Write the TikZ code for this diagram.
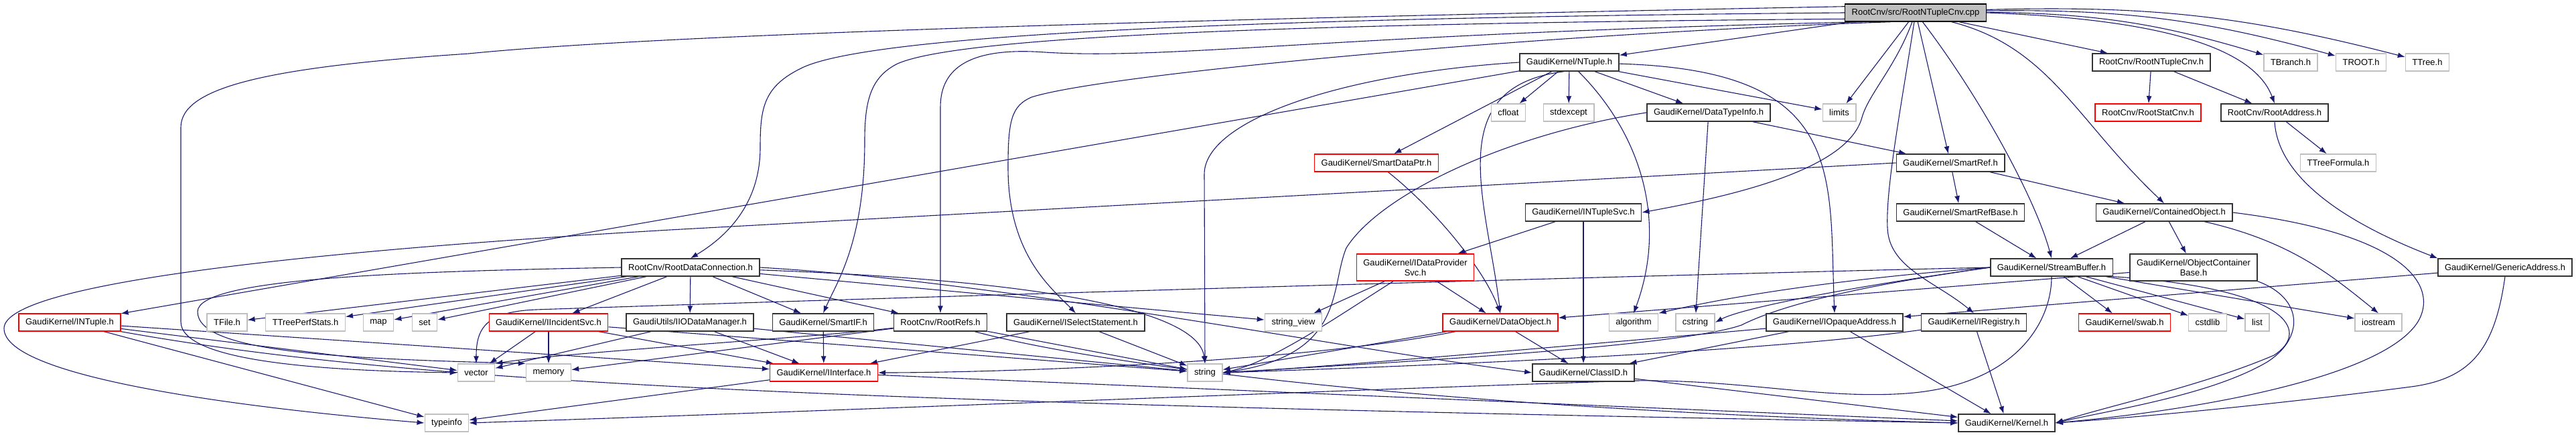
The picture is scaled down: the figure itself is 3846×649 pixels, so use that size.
\documentclass[tikz,border=0pt]{standalone}
\usepackage{fontspec}
\setmainfont{Liberation Sans}
\usetikzlibrary{arrows.meta,backgrounds}
\definecolor{DoxEdge}{RGB}{25,25,112}
\definecolor{DoxGray}{RGB}{191,191,191}
\definecolor{DoxRed}{RGB}{255,0,0}
\definecolor{DoxDark}{RGB}{51,51,51}

\begin{document}
\begin{tikzpicture}[x=1bp,y=-1bp,
  hdr/.style={draw=DoxDark,line width=1.4bp,fill=white,minimum height=26bp,
              inner xsep=10bp,inner ysep=2bp,align=center,
              font=\fontsize{13bp}{15bp}\selectfont},
  syshdr/.style={hdr,draw=DoxGray},
  cuthdr/.style={hdr,draw=DoxRed},
  srchdr/.style={hdr,draw=black,fill=DoxGray},
  dep/.style={-{Latex[length=11bp,width=8bp]},draw=DoxEdge,line width=1.1bp}]
  \useasboundingbox (0,0) rectangle (3846,649);
  % rows from top to bottom
  \node[srchdr](cnv) at (2860,19){RootCnv/src/RootNTupleCnv.cpp};
  \node[hdr](ntuple) at (2343,93){GaudiKernel/NTuple.h};
  \node[hdr](cnvh) at (3212,93){RootCnv/RootNTupleCnv.h};
  \node[syshdr](tbranch) at (3420,93){TBranch.h};
  \node[syshdr](troot) at (3525,93){TROOT.h};
  \node[syshdr](ttree) at (3624,93){TTree.h};
  \node[syshdr](cfloat) at (2252,168){cfloat};
  \node[syshdr](stdexc) at (2342,168){stdexcept};
  \node[hdr](dtinfo) at (2551,168){GaudiKernel/DataTypeInfo.h};
  \node[syshdr](limits) at (2746,168){limits};
  \node[cuthdr](statcnv) at (3207,168){RootCnv/RootStatCnv.h};
  \node[hdr](raddr) at (3396,168){RootCnv/RootAddress.h};
  \node[cuthdr](sdptr) at (2055,243){GaudiKernel/SmartDataPtr.h};
  \node[hdr](sref) at (2912,243){GaudiKernel/SmartRef.h};
  \node[syshdr](tformula) at (3491,243){TTreeFormula.h};
  \node[hdr](ntsvc) at (2364,317){GaudiKernel/INTupleSvc.h};
  \node[hdr](srefbase) at (2927,317){GaudiKernel/SmartRefBase.h};
  \node[hdr](cobj) at (3231,317){GaudiKernel/ContainedObject.h};
  \node[hdr](rdc) at (1031,399){RootCnv/RootDataConnection.h};
  \node[cuthdr,minimum height=40bp](idps) at (2113,399){GaudiKernel/IDataProvider\\Svc.h};
  \node[hdr](sbuf) at (3063,399){GaudiKernel/StreamBuffer.h};
  \node[hdr,minimum height=40bp](ocbase) at (3275,399){GaudiKernel/ObjectContainer\\Base.h};
  \node[hdr](gaddr) at (3740,399){GaudiKernel/GenericAddress.h};
  \node[cuthdr](intuple) at (104,481){GaudiKernel/INTuple.h};
  \node[syshdr](tfile) at (339,481){TFile.h};
  \node[syshdr](tperf) at (456,481){TTreePerfStats.h};
  \node[syshdr](map) at (565,481){map};
  \node[syshdr](set) at (634,481){set};
  \node[cuthdr](incsvc) at (819,481){GaudiKernel/IIncidentSvc.h};
  \node[hdr](iodm) at (1030,481){GaudiUtils/IIODataManager.h};
  \node[hdr](smartif) at (1229,481){GaudiKernel/SmartIF.h};
  \node[hdr](rrefs) at (1404,481){RootCnv/RootRefs.h};
  \node[hdr](isel) at (1606,481){GaudiKernel/ISelectStatement.h};
  \node[syshdr](strview) at (1931,481){string\_view};
  \node[cuthdr](dobj) at (2240,481){GaudiKernel/DataObject.h};
  \node[syshdr](algo) at (2439,481){algorithm};
  \node[syshdr](cstring) at (2531,481){cstring};
  \node[hdr](iopaque) at (2739,481){GaudiKernel/IOpaqueAddress.h};
  \node[hdr](ireg) at (2947,481){GaudiKernel/IRegistry.h};
  \node[cuthdr](swab) at (3172,481){GaudiKernel/swab.h};
  \node[syshdr](cstdlib) at (3296,481){cstdlib};
  \node[syshdr](list) at (3370,481){list};
  \node[syshdr](iostream) at (3551,481){iostream};
  \node[syshdr](vector) at (711,556){vector};
  \node[syshdr](memory) at (819,556){memory};
  \node[cuthdr](iface) at (1230,556){GaudiKernel/IInterface.h};
  \node[syshdr](string) at (1799,556){string};
  \node[hdr](classid) at (2364,556){GaudiKernel/ClassID.h};
  \node[syshdr](typeinfo) at (667,631){typeinfo};
  \node[hdr](kernel) at (2996,631){GaudiKernel/Kernel.h};

  \begin{scope}[on background layer]
  \foreach \a/\b in {cnv/ntuple,cnv/limits,cnv/sref,cnv/cnvh,
      ntuple/intuple,ntuple/cfloat,ntuple/stdexc,ntuple/dtinfo,ntuple/limits,ntuple/sdptr,
      dtinfo/cstring,dtinfo/sref,sref/srefbase,sref/cobj,ntsvc/idps,ntsvc/classid,
      srefbase/sbuf,cobj/sbuf,cobj/ocbase,cnvh/statcnv,cnvh/raddr,raddr/tformula,
      gaddr/iopaque,sbuf/swab,sbuf/cstdlib,sbuf/list,sbuf/iostream,ocbase/dobj,
      idps/strview,idps/dobj,dobj/classid,dobj/string,iopaque/classid,iopaque/kernel,
      ireg/kernel,classid/kernel,iface/typeinfo,iface/kernel,
      intuple/vector,intuple/iface,rdc/tfile,rdc/tperf,rdc/map,rdc/set,rdc/incsvc,
      rdc/iodm,rdc/smartif,rdc/rrefs,rdc/strview,incsvc/vector,incsvc/memory,
      incsvc/iface,incsvc/string,iodm/vector,iodm/iface,iodm/string,smartif/iface,
      rrefs/string,rrefs/memory,isel/iface,isel/string}
    \draw[dep](\a)--(\b);
  \draw[dep](cnv) to[bend left=8] (tbranch);
  \draw[dep](cnv) to[bend left=8] (troot);
  \draw[dep](cnv) to[bend left=8] (ttree);
  \draw[dep](cnv.east) .. controls (3270,30) and (3370,85) .. (raddr.north);
  \draw[dep](cnv) .. controls (3060,70) and (3100,180) .. (cobj.north);
  \draw[dep](cnv) .. controls (2960,150) and (3040,300) .. (sbuf.north);
  \draw[dep](cnv) .. controls (2840,150) and (2815,280) .. (2818,340)
                  .. controls (2820,400) and (2890,420) .. (ireg.north);
  \draw[dep](cnv) .. controls (2830,100) and (2790,140) .. (2780,175)
                  .. controls (2760,250) and (2600,290) .. (ntsvc.east);
  \draw[dep](cnv.175) .. controls (1800,28) and (1000,50) .. (700,80)
                  .. controls (400,100) and (270,130) .. (270,190) -- (270,480)
                  .. controls (270,535) and (450,553) .. (vector.west);
  \draw[dep](cnv.west) .. controls (1700,28) and (1290,60) .. (1200,100)
                  .. controls (1140,128) and (1135,160) .. (1135,220)
                  .. controls (1135,300) and (1090,350) .. (rdc.north);
  \draw[dep](cnv.185) .. controls (1800,36) and (1420,60) .. (1340,95)
                  .. controls (1300,115) and (1291,150) .. (1291,210)
                  .. controls (1291,360) and (1250,420) .. (smartif.north);
  \draw[dep](cnv.190) .. controls (2000,50) and (1750,90) .. (1560,78)
                  .. controls (1450,70) and (1404,100) .. (1404,160) -- (rrefs.north);
  \draw[dep](cnv.200) .. controls (2300,50) and (1650,110) .. (1540,145)
                  .. controls (1510,158) and (1505,180) .. (1505,250)
                  .. controls (1505,380) and (1570,430) .. (isel.north);
  \draw[dep](ntuple.west) .. controls (2000,110) and (1798,180) .. (1798,260) -- (string.north);
  \draw[dep](ntuple.-120) .. controls (2150,130) and (2220,300) .. (dobj.north);
  \draw[dep](ntuple) .. controls (2450,200) and (2490,330) .. (algo.north);
  \draw[dep](ntuple) .. controls (2760,105) and (2730,260) .. (iopaque.north);
  \draw[dep](dtinfo.west) .. controls (2250,200) and (2060,290) .. (2010,370)
                  .. controls (1985,430) and (2010,530) .. (string.east);
  \draw[dep](sdptr) .. controls (2140,310) and (2215,400) .. (dobj.north);
  \draw[dep](sref.west) -- (1000,343) .. controls (500,372) and (6,420) .. (6,490)
                  .. controls (6,565) and (380,610) .. (typeinfo.west);
  \draw[dep](sbuf.south) .. controls (3063,480) and (3010,575) .. (2846,587)
                  .. controls (2720,596) and (2600,566) .. (2442,568)
                  .. controls (2100,578) and (1200,615) .. (typeinfo.east);
  \draw[dep](sbuf.west) .. controls (2400,412) and (1300,445) .. (800,462)
                  .. controls (725,465) and (711,490) .. (vector.north);
  \draw[dep](sbuf.west) .. controls (2700,420) and (2550,450) .. (algo.north east);
  \draw[dep](sbuf.west) .. controls (2750,430) and (2600,460) .. (cstring.east);
  \draw[dep](sbuf.west) .. controls (2750,430) and (2650,460) .. (2600,485)
                  .. controls (2500,520) and (2000,545) .. (string.east);
  \draw[dep](sbuf.south east) .. controls (3420,430) and (3450,495) .. (3395,530)
                  .. controls (3290,575) and (3150,605) .. (kernel.east);
  \draw[dep](cobj) .. controls (3420,360) and (3480,410) .. (iostream.north);
  \draw[dep](cobj.east) .. controls (3600,350) and (3640,430) .. (3610,480)
                  .. controls (3560,560) and (3300,610) .. (kernel.east);
  \draw[dep](ocbase.south east) .. controls (3440,445) and (3440,505) .. (3385,540)
                  .. controls (3300,590) and (3150,612) .. (kernel.east);
  \draw[dep](gaddr.south) .. controls (3725,520) and (3690,565) .. (3600,577)
                  .. controls (3400,603) and (3200,622) .. (kernel.east);
  \draw[dep](raddr.south) .. controls (3400,250) and (3470,320) .. (gaddr.north west);
  \draw[dep](rdc.west) .. controls (600,405) and (295,415) .. (295,465)
                  .. controls (295,525) and (500,535) .. (memory.north west);
  \draw[dep](rdc) .. controls (1600,420) and (1790,470) .. (string.north);
  \draw[dep](rdc.east) .. controls (1500,420) and (2000,520) .. (classid.west);
  \draw[dep](intuple) .. controls (600,570) and (1200,600) .. (kernel.west);
  \draw[dep](intuple) -- (typeinfo);
  \draw[dep](rrefs) .. controls (1200,505) and (850,525) .. (vector.north east);
  \draw[dep](rrefs) .. controls (1700,560) and (2300,615) .. (kernel.west);
  \draw[dep](idps) .. controls (2000,470) and (1900,540) .. (string.east);
  \draw[dep](dobj) .. controls (1950,540) and (1500,556) .. (iface.east);
  \draw[dep](iopaque) .. controls (2300,520) and (1950,550) .. (string.east);
  \draw[dep](ireg) .. controls (2600,530) and (2000,550) .. (string.east);
  \end{scope}
\end{tikzpicture}
\end{document}
